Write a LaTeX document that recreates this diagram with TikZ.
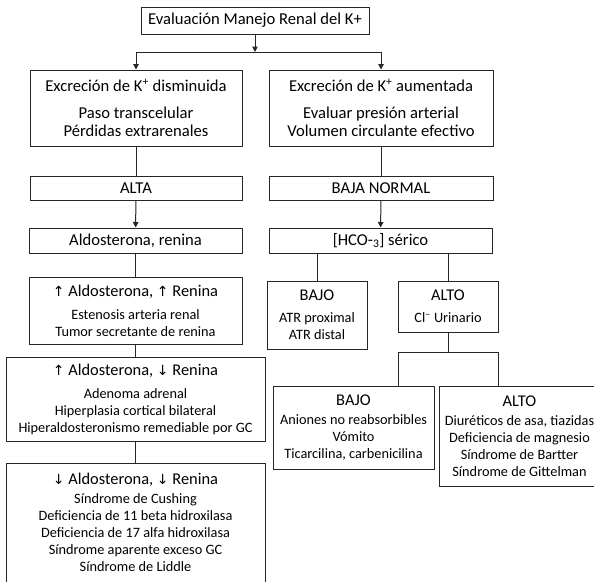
\documentclass[tikz,border=0pt]{standalone}
\usepackage{fontspec}
\setmainfont{Carlito}
\newfontfamily\symf{DejaVu Sans}
\usetikzlibrary{arrows.meta}
\newcommand\UpA{{\symf\fontsize{14}{17}\selectfont ↑}}
\newcommand\DnA{{\symf\fontsize{14}{17}\selectfont ↓}}
\newcommand\Hd[1]{{\fontsize{16.4}{17}\selectfont #1}}
\begin{document}
\begin{tikzpicture}[x=1pt,y=-1pt,
  box/.style={draw=black!85, line width=1pt, inner sep=0pt, align=center, fill=white},
  bigt/.style={font=\fontsize{16.6}{18}\selectfont},
  smallt/.style={font=\fontsize{14.3}{17}\selectfont},
  conn/.style={draw=black!85, line width=1pt},
  arr/.style={conn, -{Triangle[length=5.5pt,width=5.5pt]}}]
\useasboundingbox (0,0) rectangle (594,581);
\clip (0,0) rectangle (594,581);
% top
\node[box,bigt,minimum width=228pt,minimum height=27pt] (top) at (255,20.5) {Evaluación Manejo Renal del K+};
\coordinate (j0) at (255,52);
\node[box,bigt,minimum width=212pt,minimum height=76pt] (L1) at (136,108)
  {Excreción de K\textsuperscript{+} disminuida\\[9pt]Paso transcelular\\Pérdidas extrarenales};
\node[box,bigt,minimum width=224pt,minimum height=76pt] (R1) at (381,108)
  {Excreción de K\textsuperscript{+} aumentada\\[9pt]Evaluar presión arterial\\Volumen circulante efectivo};
\node[box,bigt,minimum width=212pt,minimum height=24pt] (alta) at (136,188) {ALTA};
\node[box,bigt,minimum width=224pt,minimum height=24pt] (baja) at (381,188) {BAJA NORMAL};
\node[box,bigt,minimum width=213pt,minimum height=25pt] (aldo) at (135.5,240.5) {Aldosterona, renina};
\node[box,bigt,minimum width=223pt,minimum height=25pt] (hco) at (380.5,240.5) {[HCO-\textsubscript{3}] sérico};
\node[box,smallt,minimum width=213pt,minimum height=67pt] (b3) at (135.5,310.5)
  {\Hd{\UpA\ Aldosterona, \UpA\ Renina}\\[6pt]Estenosis arteria renal\\Tumor secretante de renina};
\node[box,smallt,minimum width=259pt,minimum height=84pt] (b4) at (135.5,399)
  {\Hd{\UpA\ Aldosterona, \DnA\ Renina}\\[6pt]Adenoma adrenal\\Hiperplasia cortical bilateral\\Hiperaldosteronismo remediable por GC};
\node[box,smallt,minimum width=259pt,minimum height=119pt] (b5) at (135.5,522.5)
  {\Hd{\DnA\ Aldosterona, \DnA\ Renina}\\[2pt]Síndrome de Cushing\\Deficiencia de 11 beta hidroxilasa\\Deficiencia de 17 alfa hidroxilasa\\Síndrome aparente exceso GC\\Síndrome de Liddle};
\node[box,smallt,minimum width=100pt,minimum height=68pt] (bajo) at (317,315)
  {\Hd{BAJO}\\[5pt]ATR proximal\\ATR distal};
\node[box,smallt,minimum width=100pt,minimum height=51pt] (alto) at (448,306.5)
  {\Hd{ALTO}\\[5pt]Cl\textsuperscript{–} Urinario};
\coordinate (jc) at (448,352);
\coordinate (jl) at (398,352);
\coordinate (jr) at (498,352);
\node[box,smallt,minimum width=161pt,minimum height=83pt] (bajo2) at (353.5,427.5)
  {\Hd{BAJO}\\[2pt]Aniones no reabsorbibles\\Vómito\\Ticarcilina, carbenicilina};
\node[box,smallt,minimum width=161pt,minimum height=100pt] (alto2) at (519.5,436)
  {\Hd{ALTO}\\[2pt]Diuréticos de asa, tiazidas\\Deficiencia de magnesio\\Síndrome de Bartter\\Síndrome de Gittelman};
% connectors
\draw[arr] (top.south) -- (j0);
\draw[arr] (j0) -| (L1.north);
\draw[arr] (j0) -| (R1.north);
\draw[conn] (L1) -- (alta);
\draw[conn] (R1) -- (baja);
\draw[arr] (alta) -- (aldo);
\draw[arr] (baja) -- (hco);
\draw[conn] (aldo) -- (b3);
\draw[conn] (b3) -- (b4);
\draw[conn] (b4) -- (b5);
\draw[conn] (bajo.north |- hco.south) -- (bajo.north);
\draw[conn] (alto.north |- hco.south) -- (alto.north);
\draw[conn] (alto.south) -- (jc);
\draw[conn] (jl) -- (jr);
\draw[conn] (jl) -- (jl |- bajo2.north);
\draw[conn] (jr) -- (jr |- alto2.north);
\end{tikzpicture}
\end{document}
